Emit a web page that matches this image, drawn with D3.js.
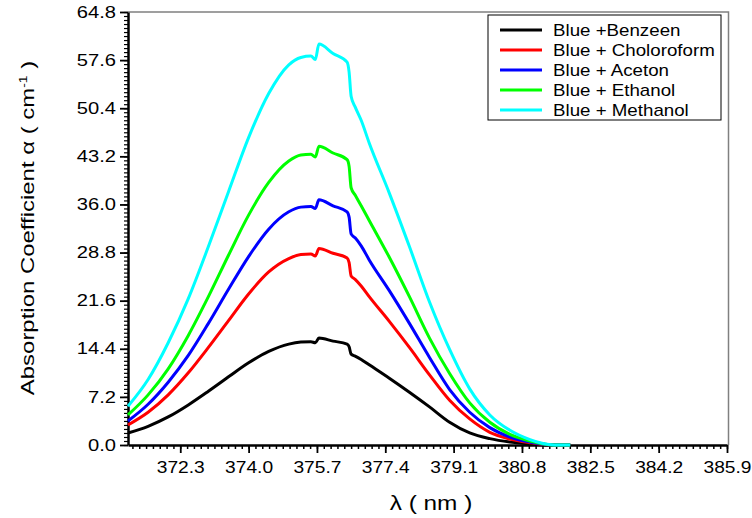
<!DOCTYPE html>
<html>
<head>
<meta charset="utf-8">
<script src="https://cdn.jsdelivr.net/npm/d3@7"></script>
<style>
  body { margin: 0; background: #fff; }
  svg { font-family: Arial, "Liberation Sans", sans-serif; }
</style>
</head>
<body>
<svg width="752" height="518"></svg>
<script>
// wavelength grid (nm)
const lambda = [371.0, 371.5, 372.0, 372.5, 373.0, 373.5, 374.0, 374.5, 375.0, 375.3, 375.55, 375.66, 375.75, 376.1, 376.45, 376.5, 376.55, 376.65, 376.8, 377.0, 377.5, 378.0, 378.5, 379.0, 379.5, 380.0, 380.5, 381.0, 381.3, 381.6, 382.0];

const benzeen = [1.8, 2.8, 4.2, 6.0, 8.05, 10.2, 12.3, 14.0, 15.1, 15.4, 15.45, 15.3, 16.0, 15.55, 15.1, 14.7, 13.6, 13.3, 12.8, 12.0, 10.0, 7.9, 5.7, 3.4, 1.8, 0.95, 0.45, 0.15, 0.05, 0, 0];
const chloroform = [3.0, 4.9, 7.5, 10.8, 14.6, 18.6, 22.6, 25.9, 27.9, 28.5, 28.6, 28.3, 29.4, 28.7, 28.0, 27.3, 25.3, 24.8, 23.8, 22.2, 18.5, 14.6, 10.5, 6.7, 3.9, 1.9, 0.9, 0.35, 0.1, 0, 0];
const aceton = [3.6, 6.1, 9.4, 13.4, 18.2, 23.3, 28.2, 32.3, 34.9, 35.6, 35.7, 35.4, 36.7, 35.8, 34.9, 34.1, 31.6, 31.0, 29.8, 27.7, 23.1, 18.2, 13.1, 8.3, 4.9, 2.6, 1.2, 0.45, 0.15, 0, 0];
const ethanol = [4.5, 7.5, 11.4, 16.4, 22.2, 28.4, 34.4, 39.3, 42.5, 43.4, 43.5, 43.1, 44.7, 43.7, 42.7, 41.7, 38.5, 37.4, 35.8, 33.6, 28.1, 22.2, 16.0, 10.7, 6.3, 3.4, 1.6, 0.6, 0.2, 0, 0];
const methanol = [5.8, 9.8, 15.3, 21.9, 29.7, 37.9, 46.0, 52.6, 56.9, 58.0, 58.2, 57.7, 60.0, 58.6, 57.3, 55.8, 52.2, 50.6, 48.6, 45.2, 37.7, 29.7, 21.4, 14.3, 8.4, 4.5, 2.2, 0.8, 0.25, 0, 0];

const seriesNames = ["Blue +Benzeen", "Blue + Choloroform", "Blue + Aceton", "Blue + Ethanol", "Blue + Methanol"];
const seriesValues = [benzeen, chloroform, aceton, ethanol, methanol];
const seriesColors = ["#000000", "#ff0000", "#0000ff", "#00ff00", "#00ffff"];

const xTicks = [372.3, 374.0, 375.7, 377.4, 379.1, 380.8, 382.5, 384.2, 385.9];
const yTicks = [0.0, 7.2, 14.4, 21.6, 28.8, 36.0, 43.2, 50.4, 57.6, 64.8];

const svg = d3.select("svg");
const plotL = 128, plotR = 727, plotT = 12, plotB = 445;

const x = d3.scaleLinear().domain([371.0, 385.9]).range([plotL, plotR]);
const y = d3.scaleLinear().domain([0, 64.8]).range([plotB, plotT]);

// frame: top and right in gray
svg.append("path")
    .attr("d", `M${plotL},${plotT}H${plotR + 1.5}V${plotB}`)
    .attr("fill", "none")
    .attr("stroke", "#808080")
    .attr("stroke-width", 1.5);

// minor ticks
const xMinor = d3.range(-7, 81).map(i => 372.3 + i * 0.17).filter(v => v >= 371.0 && v <= 385.95);
const yMinor = d3.range(0, 109).map(i => i * 0.6);

svg.append("g")
    .attr("transform", `translate(0,${plotB})`)
    .call(d3.axisBottom(x).tickValues(xMinor).tickSize(4).tickFormat(""))
    .call(g => g.select(".domain").remove())
    .selectAll("line").attr("stroke-width", 1.5);

svg.append("g")
    .attr("transform", `translate(${plotL},0)`)
    .call(d3.axisLeft(y).tickValues(yMinor).tickSize(4).tickFormat(""))
    .call(g => g.select(".domain").remove())
    .selectAll("line").attr("stroke-width", 1.2);

// major axes
const xAxis = svg.append("g")
    .attr("transform", `translate(0,${plotB})`)
    .call(d3.axisBottom(x).tickValues(xTicks).tickSize(8).tickSizeOuter(0).tickFormat(d3.format(".1f")));
xAxis.select(".domain").attr("stroke-width", 2.5);
xAxis.selectAll("line").attr("stroke-width", 1.8);
xAxis.selectAll("text")
    .attr("font-size", 16)
    .attr("y", 28.5).attr("dy", 0)
    .attr("transform", "scale(1.2,1)")
    .attr("fill", "#000");

const yStretch = 1.26;
const yAxis = svg.append("g")
    .attr("transform", `translate(${plotL},0)`)
    .call(d3.axisLeft(y).tickValues(yTicks).tickSize(8).tickSizeOuter(0).tickFormat(d3.format(".1f")));
yAxis.select(".domain").attr("stroke-width", 2.5);
yAxis.selectAll("line").attr("stroke-width", 1.8);
yAxis.selectAll("text")
    .attr("font-size", 16)
    .attr("x", -12 / yStretch)
    .attr("transform", `scale(${yStretch},1)`)
    .attr("fill", "#000");

// curves
const line = d3.line()
    .x(d => x(d[0]))
    .y(d => y(d[1]))
    .curve(d3.curveMonotoneX);

seriesValues.forEach((vals, i) => {
    svg.append("path")
        .datum(lambda.map((l, j) => [l, vals[j]]))
        .attr("d", line)
        .attr("fill", "none")
        .attr("stroke", seriesColors[i])
        .attr("stroke-width", 3)
        .attr("stroke-linejoin", "round");
});

// axis titles
svg.append("text")
    .attr("transform", "translate(431,510) scale(1.22,1)")
    .attr("text-anchor", "middle")
    .attr("font-size", 20)
    .text("λ ( nm )");

const yl = svg.append("text")
    .attr("transform", "translate(34,228) rotate(-90) scale(1.26,1)")
    .attr("text-anchor", "middle")
    .attr("font-size", 19);
yl.append("tspan").text("Absorption Coefficient α ( cm");
yl.append("tspan").attr("dy", -7).attr("font-size", 11).text("-1");
yl.append("tspan").attr("dy", 7).text(" )");

// legend
const legend = svg.append("g");
legend.append("rect")
    .attr("x", 488).attr("y", 15)
    .attr("width", 233).attr("height", 105)
    .attr("fill", "#fff")
    .attr("stroke", "#000")
    .attr("stroke-width", 1);

seriesNames.forEach((name, i) => {
    const yy = 30 + i * 20;
    legend.append("line")
        .attr("x1", 500).attr("x2", 542)
        .attr("y1", yy).attr("y2", yy)
        .attr("stroke", seriesColors[i])
        .attr("stroke-width", 3);
    legend.append("text")
        .attr("transform", `translate(553,${yy}) scale(1.17,1)`)
        .attr("dy", "0.36em")
        .attr("font-size", 16)
        .text(name);
});
</script>
</body>
</html>
